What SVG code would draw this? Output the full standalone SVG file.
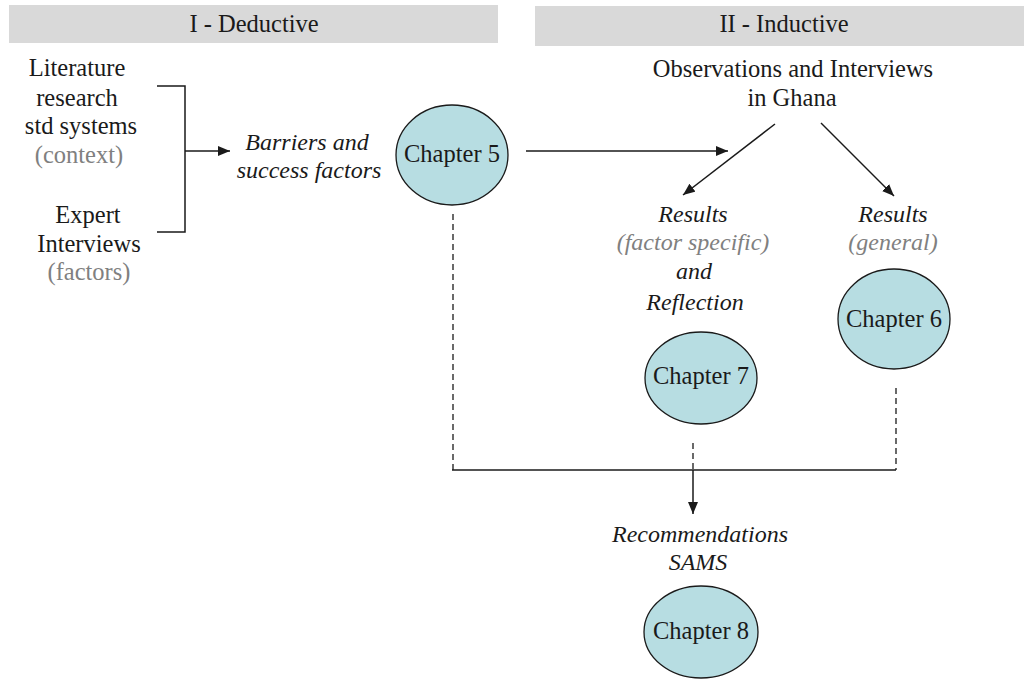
<svg xmlns="http://www.w3.org/2000/svg" width="1024" height="679" viewBox="0 0 1024 679">
<style>
text{font-family:'Liberation Serif','DejaVu Serif',serif;font-size:24.5px;fill:#1a1a1a;text-anchor:middle}
.it{font-style:italic;font-size:24px}
.g{fill:#808080}
.bar{fill:#d9d9d9}
.ch{fill:#b7dde2;stroke:#1a1a1a;stroke-width:1.3}
.ln{fill:none;stroke:#1a1a1a;stroke-width:1.5}
.dash{fill:none;stroke:#1a1a1a;stroke-width:1.3;stroke-dasharray:6,4}
</style>
<defs>
<marker id="ah" viewBox="0 0 12 10" refX="12" refY="5" markerWidth="12" markerHeight="10" markerUnits="userSpaceOnUse" orient="auto">
<path d="M0,0 L12,5 L0,10 z" fill="#1a1a1a"/>
</marker>
</defs>
<rect width="1024" height="679" fill="#ffffff"/>
<g id="header-deductive">
<rect class="bar" x="9" y="5" width="489" height="38"/>
<text x="254" y="32">I - Deductive</text>
</g>
<g id="header-inductive">
<rect class="bar" x="535" y="6" width="489" height="40"/>
<text x="784" y="32">II - Inductive</text>
</g>
<g id="literature">
<text x="77" y="76">Literature</text>
<text x="77" y="106">research</text>
<text x="81" y="134">std systems</text>
<text class="g" x="79" y="163">(context)</text>
</g>
<g id="expert">
<text x="88" y="223">Expert</text>
<text x="89" y="252">Interviews</text>
<text class="g" x="89" y="280">(factors)</text>
</g>
<g id="barriers">
<text class="it" x="307" y="150">Barriers and</text>
<text class="it" x="309" y="178">success factors</text>
</g>
<g id="chapter5">
<ellipse class="ch" cx="452" cy="155" rx="56" ry="50"/>
<text x="452" y="162">Chapter 5</text>
</g>
<g id="observations">
<text x="793" y="77">Observations and Interviews</text>
<text x="792" y="106">in Ghana</text>
</g>
<g id="results-specific">
<text class="it" x="693" y="222">Results</text>
<text class="it g" x="693" y="250">(factor specific)</text>
<text class="it" x="694" y="279">and</text>
<text class="it" x="695" y="310">Reflection</text>
</g>
<g id="results-general">
<text class="it" x="893" y="222">Results</text>
<text class="it g" x="893" y="250">(general)</text>
</g>
<g id="chapter6">
<ellipse class="ch" cx="894" cy="319" rx="56" ry="50"/>
<text x="894" y="327">Chapter 6</text>
</g>
<g id="chapter7">
<ellipse class="ch" cx="701" cy="378" rx="56" ry="46"/>
<text x="701" y="384">Chapter 7</text>
</g>
<g id="recommendations">
<text class="it" x="700" y="542">Recommendations</text>
<text class="it" x="698" y="570">SAMS</text>
</g>
<g id="chapter8">
<ellipse class="ch" cx="701" cy="632" rx="57" ry="46"/>
<text x="701" y="639">Chapter 8</text>
</g>
<g id="connectors">
<path class="ln" d="M157,86 H185 V232 H157"/>
<path class="ln" d="M185,151 H230" marker-end="url(#ah)"/>
<path class="ln" d="M526,151 H728" marker-end="url(#ah)"/>
<path class="ln" d="M775,124 L683,195" marker-end="url(#ah)"/>
<path class="ln" d="M821,123 L894,196" marker-end="url(#ah)"/>
<path class="dash" d="M453,214 V470"/>
<path class="dash" d="M896,388 V470"/>
<path class="dash" d="M693,443 V470"/>
<path class="ln" d="M452,470 H896"/>
<path class="ln" d="M693,470 V514" marker-end="url(#ah)"/>
</g>
</svg>
